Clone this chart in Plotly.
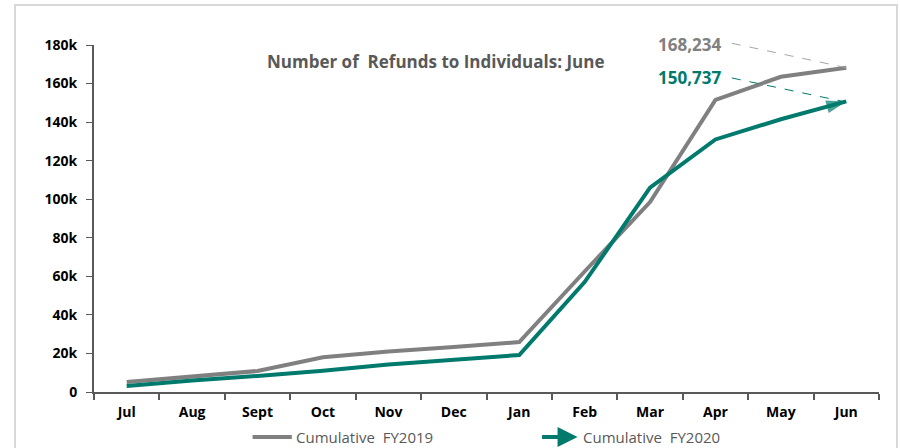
import plotly.graph_objects as go

months = ["Jul", "Aug", "Sept", "Oct", "Nov", "Dec", "Jan", "Feb", "Mar", "Apr", "May", "Jun"]
fy2019 = [5200, 8300, 10900, 18000, 21000, 23300, 25900, 62500, 98500, 151500, 163500, 168234]
fy2020 = [3100, 6000, 8300, 11000, 14300, 17000, 19200, 57000, 106000, 131000, 141500, 150737]
y_ticks = [0, 20000, 40000, 60000, 80000, 100000, 120000, 140000, 160000, 180000]
y_labels = ["0", "20k", "40k", "60k", "80k", "100k", "120k", "140k", "160k", "180k"]
Y_MAX = 180000

GRAY = "#808080"
TEAL = "#007A6C"
TXT = "#595959"
FONT = "Open Sans"

fig = go.Figure()
fig.add_trace(go.Scatter(x=months, y=fy2019, mode="lines", name="Cumulative  FY2019",
                         line=dict(color=GRAY, width=4), showlegend=False))
sizes = [0] * (len(months) - 1) + [21]
fig.add_trace(go.Scatter(x=months, y=fy2020, mode="lines+markers", name="Cumulative  FY2020",
                         line=dict(color=TEAL, width=4),
                         marker=dict(symbol="arrow", angleref="previous", size=sizes, color=TEAL,
                                     line=dict(width=0)),
                         showlegend=False, cliponaxis=False))

# value callouts with dashed leader lines
last = len(months) - 1
fig.add_annotation(x=9.12, y=1.002, xref="x", yref="paper", text="<b>168,234</b>", showarrow=False,
                   xanchor="right", yanchor="middle", font=dict(family=FONT, size=17, color=GRAY))
fig.add_annotation(x=9.12, y=0.905, xref="x", yref="paper", text="<b>150,737</b>", showarrow=False,
                   xanchor="right", yanchor="middle", font=dict(family=FONT, size=17, color=TEAL))
fig.add_shape(type="line", xref="x", yref="paper", x0=9.25, y0=1.005, x1=last,
              y1=fy2019[-1] / Y_MAX, line=dict(color="#A6A6A6", width=1, dash="dash"))
fig.add_shape(type="line", xref="x", yref="paper", x0=9.25, y0=0.905, x1=last - 0.05,
              y1=fy2020[-1] / Y_MAX, line=dict(color=TEAL, width=1, dash="dash"))

# title
fig.add_annotation(x=0.435, y=0.953, xref="paper", yref="paper",
                   text="<b>Number of  Refunds to Individuals: June</b>", showarrow=False,
                   yanchor="middle", font=dict(family=FONT, size=17, color=TXT))

# outer border
fig.add_shape(type="rect", xref="paper", yref="paper", x0=-0.1006, x1=1.0229, y0=-0.3, y1=1.115,
              line=dict(color="#D9D9D9", width=2), layer="below")

# custom legend
LY = -0.13
fig.add_shape(type="line", xref="paper", yref="paper", x0=0.202, x1=0.252, y0=LY, y1=LY,
              line=dict(color=GRAY, width=4))
fig.add_annotation(x=0.255, y=LY, xref="paper", yref="paper", text="Cumulative  FY2019",
                   showarrow=False, xanchor="left", yanchor="middle",
                   font=dict(family=FONT, size=15, color=TXT))
fig.add_annotation(x=0.616, y=LY, xref="paper", yref="paper", text="",
                   showarrow=True, ax=-37, ay=0, arrowhead=2, arrowsize=1, arrowwidth=4,
                   arrowcolor=TEAL)
fig.add_annotation(x=0.621, y=LY, xref="paper", yref="paper", text="Cumulative  FY2020",
                   showarrow=False, xanchor="left", yanchor="middle",
                   font=dict(family=FONT, size=15, color=TXT))

fig.update_layout(
    width=900, height=448,
    margin=dict(l=94, r=21, t=45, b=56),
    paper_bgcolor="white", plot_bgcolor="white",
    font=dict(family=FONT),
    showlegend=False,
)
fig.update_xaxes(type="category", categoryorder="array", categoryarray=months,
                 range=[-0.5, 11.5], showline=True, linecolor=TXT, linewidth=2,
                 ticks="outside", tickson="boundaries", ticklen=6, tickcolor=TXT, tickwidth=2,
                 ticklabelstandoff=6, showgrid=False, zeroline=False,
                 tickfont=dict(family=FONT, size=14, color="black", weight="bold"))
fig.update_yaxes(range=[0, Y_MAX], tickvals=y_ticks, ticktext=y_labels,
                 showline=True, linecolor=TXT, linewidth=2, ticks="outside", ticklen=6,
                 tickcolor=TXT, tickwidth=1, ticklabelstandoff=6, showgrid=False, zeroline=False,
                 tickfont=dict(family=FONT, size=14, color="black", weight="bold"))

fig.write_html("out.html", config={"displayModeBar": False},
               post_script="document.body.style.margin='0';")
